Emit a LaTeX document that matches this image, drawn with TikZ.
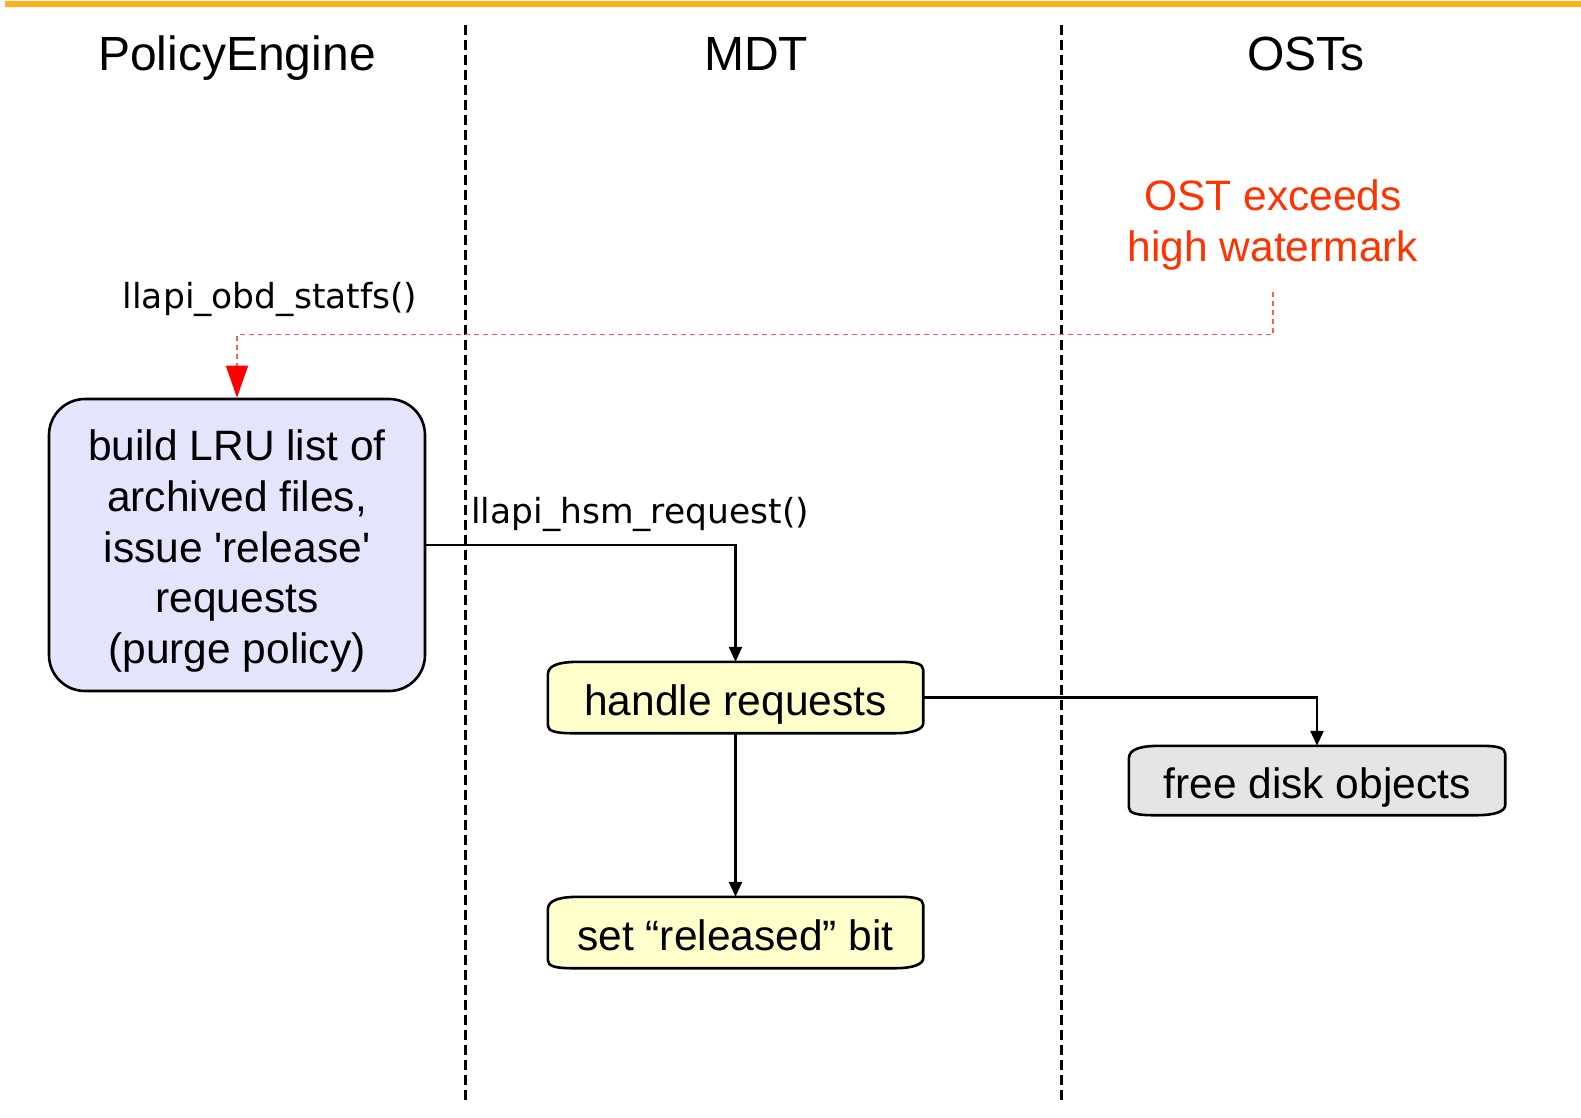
\documentclass[tikz,border=0pt]{standalone}
\usepackage{fontspec}
\setmainfont{Liberation Sans}[Ligatures=TeXOff]
\newfontfamily\callfamily{DejaVu Sans}
\usetikzlibrary{arrows.meta,calc,backgrounds}

\definecolor{topbar}{RGB}{252,178,28}
\definecolor{alertred}{RGB}{255,51,0}
\definecolor{trigline}{RGB}{255,90,90}
\definecolor{planfill}{RGB}{228,228,252}
\definecolor{notefill}{RGB}{255,255,204}
\definecolor{diskfill}{RGB}{229,229,229}

\newcommand{\hdfont}{\fontsize{48}{57}\selectfont}
\newcommand{\bxfont}{\fontsize{42.5}{50.7}\selectfont}
\newcommand{\clfont}{\callfamily\fontsize{34.5}{40}\selectfont}

\begin{document}
\begin{tikzpicture}[x=1pt,y=-1pt,
  lanesep/.style={line width=3pt, dash pattern=on 10pt off 5pt},
  lanetitle/.style={font=\hdfont, anchor=base, inner sep=0pt},
  callname/.style={font=\clfont, anchor=base, inner sep=0pt},
  flow/.style={line width=2.4pt, -{Triangle[length=15pt,width=13pt]}},
  trigger/.style={line width=1.5pt, draw=trigline, dash pattern=on 5pt off 4pt,
    -{Triangle[length=32pt,width=22pt,color=red,fill=red]}},
  action/.style={minimum width=375pt, minimum height=71pt, inner sep=0pt,
    font=\bxfont, text height=38pt, text depth=2pt},
  shell/.style={line width=2.6pt, draw=black},
]
\useasboundingbox (0,0) rectangle (1581,1117);

% top rule and lane separators
\draw[line width=5.5pt, topbar] (5,4) -- (1581,4);
\draw[lanesep] (465,25) -- (465,1104);
\draw[lanesep] (1061,25) -- (1061,1104);

% lane titles
\node[lanetitle] (tpe)  at (237,70)  {PolicyEngine};
\node[lanetitle] (tmdt) at (756,70)  {MDT};
\node[lanetitle] (tost) at (1306,70) {OSTs};

% trigger
\node[font=\bxfont, text=alertred, align=center, inner sep=0pt] (ost) at (1273,225)
  {OST exceeds\\high watermark};
\coordinate (wm) at (1273,292);

% policy engine box
\node[draw, line width=2.6pt, fill=planfill, rounded corners=36pt,
  minimum width=376pt, minimum height=292pt, inner sep=0pt,
  align=center, font=\bxfont] (pe) at (237,545)
  {\rule{0pt}{43pt}build LRU list of\\archived files,\\issue 'release'\\requests\\(purge policy)};

% action boxes
\node[action] (hr) at (735.5,697.5) {handle requests};
\node[action] (rb) at (735.5,932.5) {set “released” bit};
\node[action, minimum width=376pt, minimum height=69pt] (fd) at (1317,780.5) {free disk objects};

% scroll-like outlines behind the action boxes
\begin{scope}[on background layer]
\foreach \n/\c in {hr/notefill, rb/notefill, fd/diskfill}{
  \draw[shell, fill=\c]
    ($(\n.north west)+(0,13)$) .. controls ($(\n.north west)+(0,3)$) and ($(\n.north west)+(12,0)$) .. ($(\n.north west)+(32,0)$)
    -- ($(\n.north east)+(-24,0)$) .. controls ($(\n.north east)+(-8,0)$) and ($(\n.north east)+(0,2)$) .. ($(\n.north east)+(0,8)$)
    -- ($(\n.south east)+(0,-10)$) .. controls ($(\n.south east)+(0,-4)$) and ($(\n.south east)+(-10,0)$) .. ($(\n.south east)+(-28,0)$)
    -- ($(\n.south west)+(24,0)$) .. controls ($(\n.south west)+(8,0)$) and ($(\n.south west)+(0,-2)$) .. ($(\n.south west)+(0,-8)$)
    -- cycle;
}
\end{scope}

% connectors
\draw[trigger] (wm) |- ([yshift=63pt]pe.north) -- (pe.north);
\node[callname] (statfs) at (270,308) {llapi\_obd\_statfs()};

\draw[flow] (pe.east) -| (hr.north);
\node[callname, anchor=base west] (hsmreq) at (471,523) {llapi\_hsm\_request()};

\draw[flow] (hr.south) -- (rb.north);
\draw[flow] (hr.east) -| (fd.north);
\end{tikzpicture}
\end{document}
